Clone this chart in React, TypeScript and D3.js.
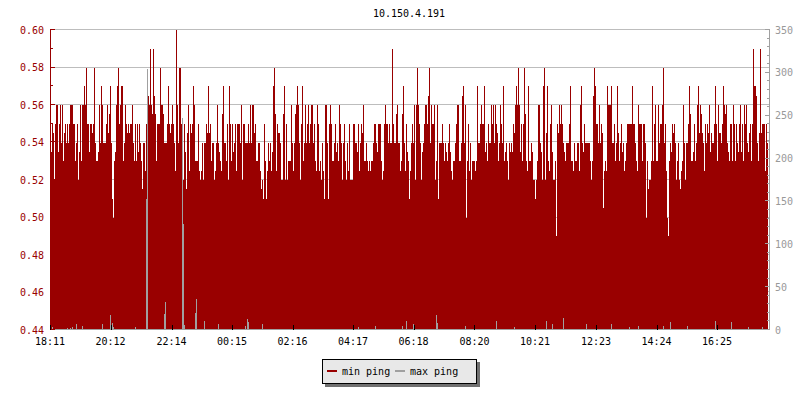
import * as d3 from 'd3'

const TITLE = '10.150.4.191'
const START = '18:11'
const STEP_MINUTES = 2
const TIME_LABELS = ['18:11', '20:12', '22:14', '00:15', '02:16', '04:17', '06:18', '08:20', '10:21', '12:23', '14:24', '16:25']
const LEFT_DOMAIN = [0.44, 0.6]
const RIGHT_DOMAIN = [0, 350]
const LEGEND = [
  { key: 'min ping', color: '#990000' },
  { key: 'max ping', color: '#a0a0a0' },
]

// min ping (ms), one value per 2 minutes, left axis
const minPing1 = [
  0.535, 0.535, 0.55, 0.545, 0.52, 0.55, 0.56, 0.56, 0.535, 0.55,
  0.56, 0.54, 0.56, 0.53, 0.545, 0.55, 0.54, 0.55, 0.54, 0.55,
  0.56, 0.56, 0.56, 0.55, 0.55, 0.53, 0.54, 0.55, 0.52, 0.535,
  0.56, 0.53, 0.56, 0.56, 0.57, 0.56, 0.58, 0.55, 0.55, 0.535,
  0.55, 0.55, 0.545, 0.55, 0.58, 0.54, 0.53, 0.53, 0.535, 0.56,
  0.54, 0.57, 0.56, 0.54, 0.54, 0.54, 0.55, 0.56, 0.545, 0.555,
  0.57, 0.54, 0.51, 0.5, 0.53, 0.535, 0.56, 0.57, 0.58, 0.55,
  0.56, 0.57, 0.57, 0.53, 0.54, 0.56, 0.55, 0.545, 0.55, 0.545,
  0.55, 0.55, 0.56, 0.54, 0.53, 0.55, 0.53, 0.55, 0.535, 0.55,
  0.54, 0.53, 0.515, 0.54, 0.54, 0.525, 0.55, 0.55, 0.565, 0.56,
  0.59, 0.56, 0.555, 0.59, 0.565, 0.555, 0.53, 0.55, 0.55, 0.55,
  0.58, 0.56, 0.56, 0.555, 0.54, 0.54, 0.54, 0.55, 0.57, 0.55,
]
const minPing2 = [
  0.545, 0.55, 0.56, 0.55, 0.54, 0.525, 0.6, 0.56, 0.54, 0.58,
  0.58, 0.55, 0.55, 0.52, 0.55, 0.535, 0.515, 0.545, 0.56, 0.525,
  0.55, 0.545, 0.55, 0.57, 0.56, 0.53, 0.53, 0.53, 0.55, 0.525,
  0.52, 0.525, 0.54, 0.52, 0.54, 0.54, 0.55, 0.545, 0.57, 0.545,
  0.55, 0.53, 0.54, 0.54, 0.52, 0.525, 0.54, 0.56, 0.54, 0.535,
  0.53, 0.525, 0.555, 0.57, 0.54, 0.54, 0.53, 0.55, 0.52, 0.57,
  0.55, 0.53, 0.55, 0.535, 0.54, 0.55, 0.525, 0.55, 0.55, 0.55,
  0.54, 0.56, 0.52, 0.55, 0.55, 0.54, 0.54, 0.54, 0.55, 0.54,
  0.56, 0.54, 0.56, 0.56, 0.545, 0.55, 0.53, 0.53, 0.54, 0.54,
  0.525, 0.515, 0.52, 0.51, 0.55, 0.53, 0.51, 0.525, 0.54, 0.53,
  0.54, 0.525, 0.535, 0.57, 0.58, 0.555, 0.525, 0.55, 0.545, 0.545,
  0.54, 0.52, 0.52, 0.555, 0.57, 0.52, 0.55, 0.52, 0.53, 0.53,
]
const minPing3 = [
  0.53, 0.56, 0.54, 0.525, 0.54, 0.555, 0.56, 0.57, 0.56, 0.54,
  0.52, 0.55, 0.57, 0.53, 0.54, 0.56, 0.54, 0.55, 0.56, 0.54,
  0.55, 0.56, 0.56, 0.54, 0.55, 0.53, 0.525, 0.56, 0.55, 0.525,
  0.53, 0.52, 0.54, 0.525, 0.51, 0.56, 0.56, 0.54, 0.51, 0.55,
  0.56, 0.55, 0.53, 0.53, 0.54, 0.55, 0.535, 0.54, 0.53, 0.56,
  0.55, 0.54, 0.52, 0.54, 0.55, 0.53, 0.52, 0.54, 0.525, 0.55,
  0.52, 0.52, 0.52, 0.55, 0.55, 0.54, 0.54, 0.535, 0.55, 0.525,
  0.54, 0.55, 0.545, 0.56, 0.53, 0.53, 0.54, 0.53, 0.525, 0.53,
  0.525, 0.53, 0.53, 0.54, 0.55, 0.55, 0.54, 0.535, 0.55, 0.55,
  0.55, 0.53, 0.52, 0.525, 0.55, 0.56, 0.55, 0.55, 0.54, 0.55,
  0.54, 0.54, 0.59, 0.55, 0.54, 0.54, 0.555, 0.56, 0.54, 0.54,
  0.525, 0.53, 0.555, 0.57, 0.54, 0.525, 0.55, 0.535, 0.53, 0.51,
]
const minPing4 = [
  0.525, 0.54, 0.55, 0.54, 0.56, 0.52, 0.56, 0.58, 0.56, 0.55,
  0.54, 0.52, 0.535, 0.54, 0.55, 0.56, 0.56, 0.55, 0.565, 0.58,
  0.54, 0.56, 0.55, 0.55, 0.56, 0.52, 0.53, 0.56, 0.51, 0.54,
  0.54, 0.54, 0.55, 0.54, 0.53, 0.54, 0.535, 0.53, 0.54, 0.55,
  0.535, 0.525, 0.52, 0.53, 0.53, 0.54, 0.55, 0.56, 0.56, 0.53,
  0.53, 0.54, 0.565, 0.57, 0.54, 0.56, 0.5, 0.53, 0.55, 0.525,
  0.54, 0.52, 0.53, 0.53, 0.53, 0.525, 0.53, 0.57, 0.54, 0.54,
  0.55, 0.56, 0.55, 0.55, 0.57, 0.535, 0.54, 0.53, 0.55, 0.54,
  0.54, 0.56, 0.55, 0.56, 0.54, 0.56, 0.55, 0.545, 0.53, 0.54,
  0.56, 0.55, 0.54, 0.57, 0.53, 0.535, 0.54, 0.53, 0.52, 0.54,
  0.535, 0.54, 0.535, 0.55, 0.545, 0.56, 0.57, 0.56, 0.58, 0.56,
  0.535, 0.55, 0.53, 0.55, 0.58, 0.555, 0.53, 0.525, 0.57, 0.53,
]
const minPing5 = [
  0.53, 0.54, 0.535, 0.52, 0.52, 0.51, 0.52, 0.53, 0.56, 0.56,
  0.54, 0.535, 0.52, 0.57, 0.58, 0.52, 0.545, 0.57, 0.53, 0.525,
  0.55, 0.56, 0.535, 0.52, 0.52, 0.53, 0.49, 0.55, 0.545, 0.56,
  0.55, 0.56, 0.55, 0.54, 0.535, 0.53, 0.54, 0.54, 0.54, 0.55,
  0.57, 0.53, 0.53, 0.525, 0.54, 0.53, 0.53, 0.54, 0.54, 0.525,
  0.56, 0.57, 0.54, 0.535, 0.55, 0.54, 0.54, 0.54, 0.54, 0.54,
  0.53, 0.52, 0.53, 0.565, 0.58, 0.57, 0.55, 0.55, 0.54, 0.56,
  0.54, 0.55, 0.545, 0.505, 0.525, 0.53, 0.525, 0.57, 0.56, 0.56,
  0.56, 0.57, 0.54, 0.54, 0.55, 0.53, 0.54, 0.57, 0.545, 0.53,
  0.54, 0.55, 0.535, 0.54, 0.525, 0.53, 0.54, 0.55, 0.55, 0.55,
  0.55, 0.55, 0.57, 0.55, 0.55, 0.54, 0.53, 0.525, 0.56, 0.55,
  0.55, 0.55, 0.53, 0.55, 0.55, 0.54, 0.5, 0.53, 0.515, 0.52,
]
const minPing6 = [
  0.52, 0.53, 0.57, 0.53, 0.55, 0.56, 0.53, 0.53, 0.56, 0.54,
  0.55, 0.55, 0.56, 0.58, 0.54, 0.55, 0.525, 0.5, 0.49, 0.53,
  0.54, 0.535, 0.55, 0.545, 0.55, 0.54, 0.52, 0.53, 0.54, 0.52,
  0.515, 0.525, 0.53, 0.56, 0.54, 0.52, 0.54, 0.54, 0.55, 0.57,
  0.555, 0.53, 0.53, 0.535, 0.55, 0.53, 0.54, 0.56, 0.57, 0.545,
  0.56, 0.555, 0.545, 0.54, 0.525, 0.55, 0.54, 0.55, 0.545, 0.56,
  0.535, 0.545, 0.54, 0.54, 0.55, 0.57, 0.55, 0.53, 0.56, 0.545,
  0.545, 0.54, 0.55, 0.57, 0.56, 0.555, 0.56, 0.54, 0.535, 0.53,
  0.55, 0.55, 0.53, 0.56, 0.55, 0.53, 0.55, 0.54, 0.535, 0.55,
  0.56, 0.535, 0.55, 0.53, 0.56, 0.55, 0.56, 0.54, 0.535, 0.545,
  0.55, 0.53, 0.55, 0.59, 0.57, 0.57, 0.565, 0.54, 0.53, 0.545,
  0.59, 0.545, 0.55, 0.55, 0.55, 0.525, 0.55, 0.54,
]

// max ping (ms), same timestamps, right axis
const maxPing1 = [
  1.5, 1.5, 3.5, 1.5, 1.5, 1.5, 1.5, 1.5, 1.5, 1.5,
  1.5, 1.5, 1.5, 1.5, 1.5, 1.5, 1.5, 2.5, 1.5, 1.5,
  2.5, 1.5, 3, 1.5, 1.5, 1.5, 7, 1.5, 1.5, 1.5,
  1.5, 1.5, 5, 1.5, 1.5, 1.5, 1.5, 1.5, 1.5, 1.5,
  1.5, 1.5, 1.5, 1.5, 1.5, 1.5, 1.5, 1.5, 1.5, 1.5,
  1.5, 1.5, 7, 1.5, 1.5, 1.5, 1.5, 1.5, 1.5, 1.5,
  17.5, 1.5, 8, 4, 1.5, 1.5, 1.5, 1.5, 1.5, 1.5,
  1.5, 1.5, 1.5, 1.5, 1.5, 1.5, 1.5, 1.5, 1.5, 1.5,
  1.5, 1.5, 1.5, 1.5, 1.5, 3, 1.5, 1.5, 1.5, 1.5,
  1.5, 1.5, 1.5, 1.5, 1.5, 1.5, 153, 304, 1.5, 1.5,
  1.5, 1.5, 1.5, 1.5, 1.5, 1.5, 1.5, 1.5, 1.5, 1.5,
  1.5, 1.5, 1.5, 1.5, 19, 33, 1.5, 1.5, 1.5, 1.5,
]
const maxPing2 = [
  1.5, 1.5, 1.5, 1.5, 1.5, 1.5, 1.5, 1.5, 1.5, 1.5,
  1.5, 1.5, 247, 124, 6, 1.5, 1.5, 1.5, 1.5, 1.5,
  1.5, 1.5, 1.5, 1.5, 1.5, 20, 36, 1.5, 1.5, 1.5,
  1.5, 1.5, 1.5, 1.5, 10, 1.5, 1.5, 1.5, 1.5, 1.5,
  1.5, 1.5, 1.5, 1.5, 1.5, 1.5, 1.5, 1.5, 7, 1.5,
  1.5, 1.5, 1.5, 1.5, 1.5, 1.5, 1.5, 1.5, 1.5, 1.5,
  1.5, 1.5, 1.5, 1.5, 1.5, 1.5, 1.5, 1.5, 1.5, 1.5,
  1.5, 1.5, 1.5, 1.5, 1.5, 5, 1.5, 13, 9, 1.5,
  1.5, 1.5, 1.5, 1.5, 1.5, 1.5, 1.5, 1.5, 1.5, 1.5,
  1.5, 1.5, 7, 1.5, 1.5, 1.5, 1.5, 1.5, 1.5, 1.5,
  1.5, 1.5, 1.5, 1.5, 1.5, 1.5, 1.5, 1.5, 1.5, 1.5,
  1.5, 1.5, 1.5, 1.5, 1.5, 1.5, 1.5, 1.5, 1.5, 1.5,
]
const maxPing3 = [
  1.5, 1.5, 1.5, 1.5, 1.5, 1.5, 1.5, 1.5, 1.5, 1.5,
  1.5, 1.5, 1.5, 1.5, 1.5, 1.5, 1.5, 1.5, 1.5, 1.5,
  1.5, 1.5, 1.5, 1.5, 1.5, 1.5, 1.5, 1.5, 1.5, 1.5,
  1.5, 1.5, 1.5, 1.5, 1.5, 1.5, 1.5, 1.5, 1.5, 1.5,
  1.5, 1.5, 1.5, 1.5, 1.5, 1.5, 1.5, 1.5, 1.5, 1.5,
  1.5, 1.5, 1.5, 1.5, 1.5, 1.5, 1.5, 1.5, 1.5, 1.5,
  1.5, 1.5, 1.5, 1.5, 1.5, 1.5, 1.5, 1.5, 3, 1.5,
  1.5, 1.5, 1.5, 1.5, 1.5, 1.5, 1.5, 1.5, 1.5, 1.5,
  1.5, 1.5, 1.5, 1.5, 1.5, 5, 1.5, 1.5, 1.5, 1.5,
  1.5, 1.5, 1.5, 1.5, 1.5, 1.5, 1.5, 1.5, 1.5, 1.5,
  1.5, 1.5, 1.5, 1.5, 1.5, 1.5, 1.5, 1.5, 1.5, 1.5,
  1.5, 1.5, 5, 1.5, 1.5, 1.5, 10, 1.5, 1.5, 1.5,
]
const maxPing4 = [
  1.5, 1.5, 1.5, 7, 1.5, 1.5, 1.5, 1.5, 1.5, 1.5,
  1.5, 1.5, 1.5, 1.5, 1.5, 1.5, 1.5, 1.5, 1.5, 1.5,
  1.5, 1.5, 1.5, 1.5, 1.5, 1.5, 17, 8, 1.5, 1.5,
  1.5, 1.5, 1.5, 1.5, 1.5, 1.5, 1.5, 1.5, 1.5, 1.5,
  1.5, 1.5, 1.5, 1.5, 1.5, 1.5, 1.5, 1.5, 1.5, 1.5,
  1.5, 1.5, 1.5, 1.5, 1.5, 5, 1.5, 1.5, 1.5, 1.5,
  1.5, 1.5, 1.5, 1.5, 1.5, 1.5, 1.5, 1.5, 1.5, 1.5,
  1.5, 1.5, 1.5, 1.5, 1.5, 1.5, 1.5, 1.5, 1.5, 1.5,
  1.5, 1.5, 1.5, 1.5, 1.5, 1.5, 11, 1.5, 1.5, 1.5,
  1.5, 1.5, 1.5, 1.5, 1.5, 1.5, 1.5, 1.5, 1.5, 1.5,
  1.5, 1.5, 1.5, 1.5, 3, 1.5, 1.5, 1.5, 1.5, 1.5,
  1.5, 1.5, 1.5, 1.5, 1.5, 1.5, 1.5, 1.5, 1.5, 1.5,
]
const maxPing5 = [
  1.5, 1.5, 1.5, 1.5, 1.5, 1.5, 1.5, 1.5, 1.5, 1.5,
  1.5, 1.5, 1.5, 1.5, 1.5, 1.5, 10, 1.5, 1.5, 1.5,
  1.5, 1.5, 7, 1.5, 1.5, 1.5, 1.5, 1.5, 1.5, 1.5,
  1.5, 1.5, 1.5, 14, 1.5, 1.5, 1.5, 1.5, 1.5, 1.5,
  1.5, 1.5, 1.5, 1.5, 1.5, 1.5, 1.5, 1.5, 1.5, 1.5,
  1.5, 1.5, 1.5, 1.5, 1.5, 1.5, 7, 1.5, 1.5, 1.5,
  1.5, 1.5, 1.5, 1.5, 1.5, 1.5, 1.5, 1.5, 1.5, 1.5,
  1.5, 1.5, 1.5, 1.5, 1.5, 1.5, 1.5, 1.5, 1.5, 1.5,
  1.5, 7, 1.5, 1.5, 1.5, 1.5, 1.5, 1.5, 1.5, 1.5,
  1.5, 1.5, 1.5, 1.5, 1.5, 1.5, 1.5, 1.5, 1.5, 3,
  1.5, 1.5, 1.5, 1.5, 1.5, 1.5, 1.5, 1.5, 5, 1.5,
  1.5, 1.5, 1.5, 1.5, 1.5, 1.5, 1.5, 1.5, 1.5, 1.5,
]
const maxPing6 = [
  1.5, 1.5, 1.5, 1.5, 1.5, 1.5, 1.5, 1.5, 1.5, 1.5,
  1.5, 1.5, 1.5, 5, 1.5, 1.5, 1.5, 1.5, 1.5, 1.5,
  9, 1.5, 1.5, 1.5, 1.5, 1.5, 1.5, 1.5, 1.5, 1.5,
  1.5, 1.5, 1.5, 1.5, 1.5, 1.5, 1.5, 5, 1.5, 1.5,
  1.5, 1.5, 1.5, 1.5, 1.5, 1.5, 1.5, 1.5, 1.5, 1.5,
  1.5, 1.5, 1.5, 1.5, 1.5, 1.5, 1.5, 1.5, 1.5, 1.5,
  1.5, 1.5, 1.5, 1.5, 1.5, 10, 1.5, 1.5, 1.5, 1.5,
  1.5, 1.5, 1.5, 1.5, 1.5, 1.5, 1.5, 1.5, 1.5, 1.5,
  1.5, 9, 1.5, 1.5, 1.5, 1.5, 1.5, 1.5, 1.5, 1.5,
  1.5, 1.5, 1.5, 1.5, 1.5, 1.5, 1.5, 1.5, 3, 1.5,
  1.5, 1.5, 1.5, 1.5, 1.5, 1.5, 1.5, 1.5, 1.5, 1.5,
  1.5, 1.5, 4, 1.5, 1.5, 1.5, 1.5, 1.5,
]

const minPing = [...minPing1, ...minPing2, ...minPing3, ...minPing4, ...minPing5, ...minPing6]
const maxPing = [...maxPing1, ...maxPing2, ...maxPing3, ...maxPing4, ...maxPing5, ...maxPing6]

const WIDTH = 800
const HEIGHT = 400
const PLOT = { left: 50, right: 768, top: 30, bottom: 330, axisRight: 769.5 }
const FONT = '"DejaVu Sans Mono", monospace'
const RED = '#990000'
const GREY = '#a0a0a0'
const GRID = '#bdbdbd'

function clockToDate(label: string, start: Date) {
  const [h, m] = label.split(':').map(Number)
  const d = new Date(2000, 0, 1, h, m)
  return d < start ? d3.timeDay.offset(d, 1) : d
}

export default function App() {
  const n = minPing.length
  const t0 = new Date(2000, 0, 1, ...(START.split(':').map(Number) as [number, number]))
  const times = d3.range(n + 1).map((i) => d3.timeMinute.offset(t0, i * STEP_MINUTES))

  const x = d3.scaleTime().domain([times[0], times[n]]).range([PLOT.left, PLOT.right])
  const yL = d3.scaleLinear().domain(LEFT_DOMAIN).range([PLOT.bottom, PLOT.top])
  const yR = d3.scaleLinear().domain(RIGHT_DOMAIN).range([PLOT.bottom, PLOT.top])

  const leftTicks = yL.ticks(16)
  const leftMajor = yL.ticks(8)
  const rightTicks = yR.ticks(35)
  const rightMajor = yR.ticks(7)
  const isMajor = (list: number[], v: number) => list.some((m) => Math.abs(m - v) < 1e-9)
  const timeTicks = TIME_LABELS.map((label) => ({ label, t: clockToDate(label, t0) }))

  const snap = (v: number) => Math.round(v) + 0.5

  return (
    <div style={{ position: 'absolute', left: 0, top: 0 }}>
      <svg width={WIDTH} height={HEIGHT} viewBox={`0 0 ${WIDTH} ${HEIGHT}`} style={{ display: 'block', background: '#fff' }} fontFamily={FONT} fontSize={10}>
        <text x={409} y={17} textAnchor="middle" fill="#000">{TITLE}</text>

        {/* grid */}
        <g shapeRendering="crispEdges">
          {leftMajor.map((v) => (
            <line key={v} x1={PLOT.left} x2={PLOT.axisRight} y1={snap(yL(v)) - 1} y2={snap(yL(v)) - 1} stroke={GRID} />
          ))}
        </g>

        {/* min ping bars */}
        <g fill={RED} shapeRendering="crispEdges">
          {minPing.map((v, i) => {
            const x0 = x(times[i])
            const y0 = Math.max(yL(v), PLOT.top)
            return <rect key={i} x={x0} width={x(times[i + 1]) - x0} y={y0} height={PLOT.bottom - y0} />
          })}
        </g>

        {/* max ping bars */}
        <g fill={GREY} shapeRendering="crispEdges">
          {maxPing.map((v, i) => {
            const x0 = x(times[i])
            const y0 = yR(v)
            return <rect key={i} x={x0} width={x(times[i + 1]) - x0} y={y0} height={PLOT.bottom - y0} />
          })}
        </g>

        {/* left axis */}
        <g shapeRendering="crispEdges" stroke={RED}>
          <line x1={PLOT.left + 0.5} x2={PLOT.left + 0.5} y1={PLOT.top} y2={PLOT.bottom} />
          {leftTicks.map((v) => (
            <line key={v} x1={PLOT.left} x2={PLOT.left + (isMajor(leftMajor, v) ? 5 : 3)} y1={snap(yL(v)) - 1} y2={snap(yL(v)) - 1} />
          ))}
        </g>
        {leftMajor.map((v) => (
          <text key={v} x={44} y={yL(v) + 3.5} textAnchor="end" fill={RED}>{d3.format('.2f')(v)}</text>
        ))}

        {/* right axis */}
        <g shapeRendering="crispEdges" stroke={GREY}>
          <line x1={PLOT.axisRight} x2={PLOT.axisRight} y1={PLOT.top} y2={PLOT.bottom} />
          {rightTicks.map((v) => (
            <line key={v} x1={PLOT.axisRight - (isMajor(rightMajor, v) ? 5 : 3)} x2={PLOT.axisRight} y1={snap(yR(v)) - 1} y2={snap(yR(v)) - 1} />
          ))}
        </g>
        {rightMajor.map((v) => (
          <text key={v} x={775} y={yR(v) + 3.5} fill="#999">{v}</text>
        ))}

        {/* time axis */}
        <g shapeRendering="crispEdges" stroke="#000">
          {timeTicks.map((d) => (
            <line key={d.label} x1={snap(x(d.t))} x2={snap(x(d.t))} y1={PLOT.bottom - 5} y2={PLOT.bottom} />
          ))}
        </g>
        {timeTicks.map((d) => (
          <text key={d.label} x={x(d.t)} y={345} textAnchor="middle" fill="#000">{d.label}</text>
        ))}

        {/* legend */}
        <g shapeRendering="crispEdges">
          <rect x={325} y={362} width={155} height={25} fill="#707070" />
          <rect x={322.5} y={359.5} width={154} height={24} fill="#e8e8e8" stroke="#000" />
        </g>
        {LEGEND.map((item, i) => (
          <g key={item.key} transform={`translate(${327 + i * 68}, 0)`}>
            <line x1={0} x2={10} y1={371} y2={371} stroke={item.color} strokeWidth={2} />
            <text x={15} y={374.5} fill="#000">{item.key}</text>
          </g>
        ))}
      </svg>
    </div>
  )
}
